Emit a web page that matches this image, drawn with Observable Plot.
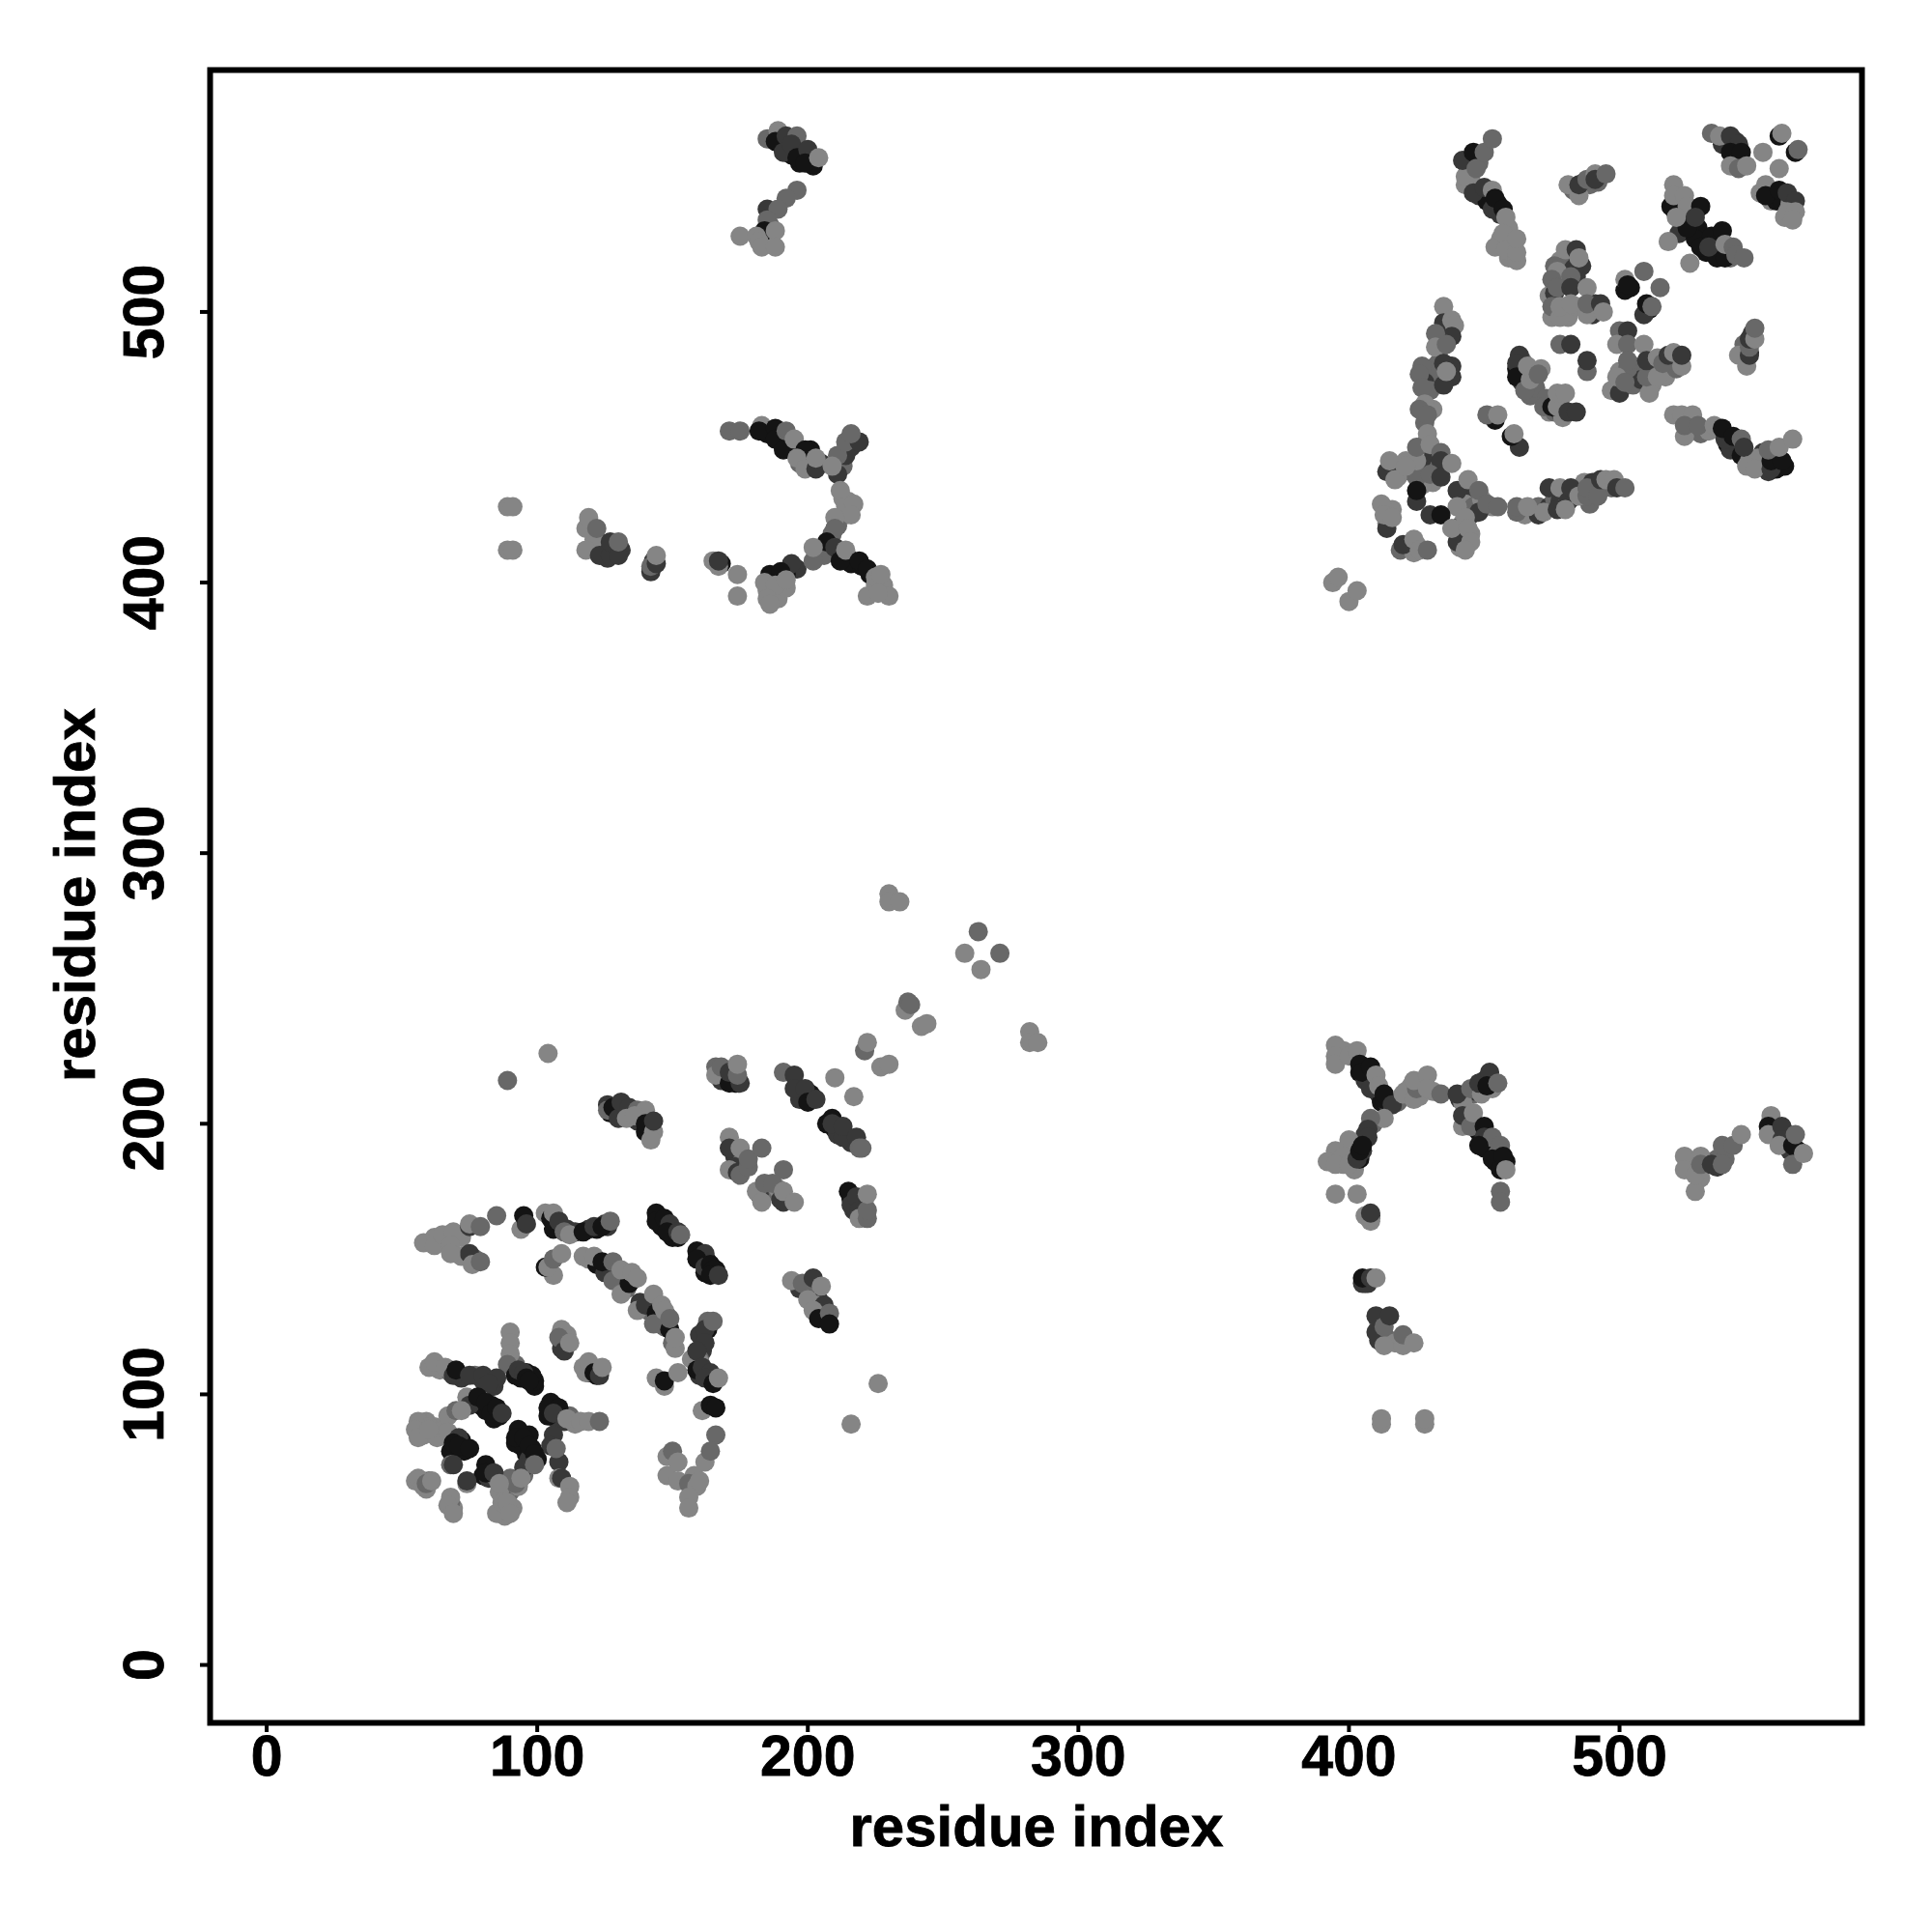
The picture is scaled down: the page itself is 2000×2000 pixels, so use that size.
<!DOCTYPE html>
<html><head><meta charset="utf-8">
<script src="https://cdn.jsdelivr.net/npm/d3@7"></script>
<script src="https://cdn.jsdelivr.net/npm/@observablehq/plot@0.6"></script>
<style>html,body{margin:0;background:#fff}svg{display:block}svg text{stroke:#000;stroke-width:.8px}</style>
</head><body><div id="chart"></div>
<script>
const shades = {K:"#141414", D:"#383838", M:"#686868", L:"#858585"};
const xTicks = [0,100,200,300,400,500];
const yTicks = [0,100,200,300,400,500];

const underLowLeft = [[72,158,'L'],[62,158,'L'],[66,156,'L'],[72,151,'L'],[77,150,'M'],[107,163,'D'],[109,162,'K'],[111,161,'D'],[114,160,'D'],[119,161,'D'],[122,161,'K'],[126,162,'D'],[125,163,'D'],
[119,150,'L'],[122,148,'K'],[126,147,'D'],[127,145,'D'],[129,146,'L'],[130,143,'D'],[132,143,'L'],[133,139,'M'],[133,144,'L'],[135,142,'L'],[138,134,'D'],[141,131,'M'],[142,134,'D'],[145,131,'D'],[146,128,'D'],[148,129,'M'],[145,127,'D'],[147,125,'M'],[150,119,'M'],
[146,162,'K'],[150,161,'K'],[150,158,'K'],[161,150,'K'],[163,149,'K'],[166,146,'K'],[162,145,'K'],
[160,122,'D'],[163,124,'K'],[161,116,'D'],[160,113,'M'],[160,107,'D'],[163,106,'K'],[165,106,'D'],[160,112,'L'],
[92,111,'M'],[94,106,'K'],[99,103,'K'],[99,105,'K'],[96,108,'K'],[98,107,'K'],[64,109,'L'],[68,108,'M'],[72,106,'D'],[77,107,'M'],[80,105,'D'],[84,103,'D'],
[76,97,'K'],[79,96,'K'],[83,96,'K'],[85,93,'K'],[81,94,'K'],[84,91,'K'],[86,92,'K'],
[106,96,'K'],[109,93,'K'],[110,90,'D'],[112,92,'M'],[114,89,'L'],[107,91,'D'],[104,92,'K'],
[97,85,'K'],[94,81,'K'],[96,78,'K'],[98,80,'K'],[100,76,'K'],[97,76,'D'],[92,82,'K'],
[70,81,'K'],[73,79,'K'],[72,83,'K'],[68,79,'K'],
[80,70,'K'],[82,69,'D'],[85,69,'M'],[88,67,'L'],[90,64,'M'],[86,64,'L'],[95,70,'M'],[93,66,'L'],[90,69,'M'],
[57,88,'L'],[58,85,'L'],[62,88,'L'],[59,90,'L'],[62,85,'L'],[63,84,'L'],
[60,68,'M'],[55,68,'L'],[59,65,'L'],[69,58,'L'],[68,60,'M'],[88,59,'L'],[91,58,'L'],[88,55,'L'],
[148,70,'L'],[158,70,'L'],[110,120,'L'],[109,117,'D'],[111,122,'L'],[119,108,'D'],[122,107,'K'],[118,108,'L']];
const underMid = [[127,204,'K'],[130,205,'D'],[132,203,'L'],[135,205,'D'],[137,201,'D'],[139,203,'L'],[141,197,'L'],[140,197,'K'],[142,199,'M'],
[168,218,'K'],[170,216,'K'],[172,217,'K'],[173,215,'K'],[168,216,'D'],
[173,188,'D'],[176,187,'M'],[173,184,'D'],[185,175,'D'],[186,175,'M'],[189,176,'L'],[190,172,'D'],
[198,211,'D'],[201,211,'K'],[197,209,'D'],[207,200,'K'],[210,198,'K'],[211,199,'D'],[211,196,'D'],[216,193,'D'],
[216,172,'K'],[217,170,'D'],[219,171,'M'],[220,167,'D'],[217,168,'D'],[221,170,'L'],
[197,139,'D'],[200,141,'D'],[201,139,'M'],[204,135,'D'],[206,131,'K'],[205,130,'D'],[203,133,'L'],[207,128,'K']];
const underUpperLeft = [[190,562,'K'],[194,558,'K'],[198,557,'K'],[201,557,'K'],[202,554,'K'],[197,555,'K'],[186,532,'M'],[184,527,'L'],[186,527,'L'],[187,525,'L'],
[185,455,'K'],[188,455,'K'],[190,452,'K'],[193,450,'K'],[195,449,'K'],[198,447,'K'],[201,449,'K'],[197,444,'M'],[205,444,'D'],[212,444,'D'],[214,449,'M'],[213,443,'M'],[216,450,'D'],
[213,431,'L'],[215,430,'L'],[214,425,'M'],[211,421,'M'],[209,418,'M'],[209,413,'K'],[212,410,'K'],[215,409,'D'],[216,407,'K'],[220,406,'K'],[223,403,'K'],[225,399,'L'],[227,398,'L'],[228,399,'L'],[206,410,'M'],
[196,405,'D'],[192,403,'K'],[190,402,'K'],[188,401,'D'],[190,399,'L'],[185,397,'L'],[188,396,'L'],[186,395,'L'],[189,394,'L'],[192,398,'L'],
[122,416,'M'],[125,412,'D'],[121,416,'L'],[126,409,'D'],[128,412,'D'],[131,412,'D'],[143,408,'D'],[142,405,'L'],[168,407,'K'],[167,406,'L']];
const underUpperRight = [[444,552,'D'],[445,554,'K'],[447,556,'K'],[448,555,'M'],[444,547,'L'],[448,543,'D'],[451,541,'K'],[455,540,'K'],[456,536,'D'],[459,531,'L'],[460,525,'L'],[456,527,'L'],[459,520,'L'],
[487,548,'D'],[483,545,'M'],[489,547,'M'],[492,548,'M'],
[478,519,'L'],[480,517,'M'],[476,517,'M'],[478,512,'M'],[480,510,'M'],[481,514,'D'],[484,517,'D'],[486,517,'D'],[484,513,'D'],[474,506,'L'],[476,507,'D'],
[479,500,'M'],[476,500,'L'],[481,498,'L'],[484,502,'L'],[490,499,'D'],[491,503,'D'],
[504,509,'K'],[502,508,'K'],[511,501,'K'],[509,499,'D'],
[497,471,'L'],[500,470,'D'],[505,473,'M'],[505,480,'M'],[500,478,'L'],
[508,475,'D'],[512,477,'M'],[512,473,'L'],[514,479,'M'],[517,476,'L'],[519,483,'M'],[521,479,'M'],[511,470,'L'],
[462,479,'K'],[464,482,'M'],[464,474,'D'],[467,471,'M'],[467,469,'M'],[469,476,'L'],[469,472,'M'],
[473,468,'M'],[474,463,'L'],[476,463,'M'],[478,467,'M'],[478,463,'D'],[479,461,'L'],
[437,494,'D'],[436,491,'L'],[434,487,'M'],[433,481,'M'],[438,480,'D'],[438,476,'D'],[429,478,'D'],[431,476,'M'],[433,475,'M'],[428,474,'D'],[430,471,'M'],[431,464,'L'],[428,459,'M'],
[520,538,'K'],[522,535,'K'],[523,533,'K'],[526,537,'K'],[527,533,'K'],[522,529,'D'],[529,531,'K'],[528,527,'K'],[534,524,'K'],[536,526,'K'],[536,522,'K'],[532,522,'K'],[536,520,'K'],[541,520,'M'],
[538,562,'D'],[543,560,'K'],[543,563,'D'],[542,556,'K'],[544,556,'K'],
[556,541,'L'],[557,544,'D'],[558,541,'K'],[560,541,'K'],[563,539,'K'],[563,540,'L'],[561,535,'L'],
[549,492,'D'],[548,485,'K'],[546,488,'M'],
[530,455,'M'],[533,456,'L'],[540,451,'K'],[541,449,'D'],[544,450,'D'],[545,447,'K'],[548,445,'L'],[552,444,'K'],[553,443,'D'],[555,441,'D'],[558,442,'K'],[561,443,'K'],[553,448,'D'],[551,446,'L'],
[421,445,'L'],[420,441,'M'],[418,442,'L'],[423,443,'L'],[418,439,'L'],[428,451,'M'],[427,443,'M'],[431,446,'D'],[431,442,'D'],[433,442,'M'],[431,437,'L'],[427,436,'L'],
[442,433,'D'],[445,430,'M'],[446,431,'D'],[447,428,'D'],[443,429,'L'],[445,425,'D'],[446,428,'M'],[449,431,'L'],[453,428,'L'],[442,422,'L'],[441,418,'M'],[445,418,'L'],[440,420,'D'],[441,413,'L'],
[414,424,'L'],[416,427,'L'],[414,422,'L'],[422,413,'L'],[419,412,'M'],[425,414,'L'],[424,411,'L'],
[464,427,'M'],[465,425,'L'],[470,428,'M'],[470,425,'D'],[474,428,'D'],[476,431,'M'],[478,430,'D'],[480,428,'M'],[482,431,'L'],[486,435,'M'],[487,437,'L'],[489,429,'M'],[490,437,'D'],[491,433,'M'],[497,435,'M']];
const underLowerRight = [[398,227,'L'],[404,219,'K'],[406,220,'K'],[407,218,'K'],[409,215,'K'],[406,216,'D'],[411,211,'D'],[412,208,'K'],[414,208,'D'],[418,208,'M'],[421,212,'L'],[423,214,'L'],[426,215,'L'],[426,210,'L'],[431,212,'L'],
[441,209,'D'],[444,211,'D'],[446,211,'M'],[450,216,'D'],[447,212,'D'],[452,216,'K'],[453,213,'L'],
[443,200,'L'],[446,199,'M'],[448,197,'K'],[449,194,'K'],[450,191,'K'],[453,190,'K'],[454,186,'K'],[455,189,'M'],[458,186,'K'],
[396,188,'L'],[398,185,'L'],[400,189,'L'],[401,188,'L'],[402,183,'L'],[404,187,'K'],[405,190,'D'],[403,190,'K'],[406,196,'D'],[409,200,'M'],
[406,142,'K'],[406,141,'D'],[407,141,'D'],[408,166,'K'],[408,165,'M'],
[411,127,'D'],[411,125,'M'],[412,122,'D'],[413,120,'M'],[411,120,'D'],[413,122,'M'],[415,120,'M'],[417,119,'L'],
[556,199,'K'],[557,197,'D'],[556,201,'K'],[562,193,'K'],[561,197,'D'],[563,190,'D'],[566,190,'K'],[530,180,'L'],[532,186,'K'],[536,187,'M'],[527,183,'L'],[536,184,'D'],[539,187,'M']];

const lowBandTop = [[58,156,'L'],[62,155,'L'],[65,159,'L'],[75,152,'D'],[76,148,'L'],[69,160,'L'],[68,155,'L'],[68,152,'L'],[75,162,'D'],[75,163,'L'],[79,162,'M'],[85,166,'M'],[79,149,'M'],
[94,161,'L'],[95,166,'K'],[96,163,'D'],
[103,167,'L'],[105,165,'K'],[106,161,'K'],[106,167,'L'],[108,164,'D'],[110,160,'M'],[112,159,'L'],[117,160,'K'],[121,162,'D'],[124,162,'K'],[127,164,'M'],
[106,144,'L'],[103,147,'K'],[104,147,'L'],[106,150,'M'],[109,152,'L'],
[117,151,'L'],[121,151,'L'],[125,145,'D'],[124,149,'K'],[128,142,'M'],[128,149,'M'],[131,137,'L'],[134,141,'K'],[131,146,'L'],[135,145,'L'],[137,143,'L'],
[137,131,'L'],[140,133,'D'],[143,137,'L'],[144,130,'K'],[143,126,'M'],[146,133,'L'],[147,131,'L'],[149,124,'K'],[149,128,'M'],[151,117,'L'],[151,121,'L']];
const lowBandDark = [[144,167,'K'],[144,164,'K'],[147,165,'K'],[149,163,'D'],[148,160,'K'],[152,158,'K'],[152,160,'D'],[153,159,'M'],
[159,153,'K'],[162,152,'D'],[159,150,'K'],[162,147,'D'],[164,148,'K'],[165,146,'K'],[164,144,'K'],[167,144,'D'],
[157,113,'L'],[163,127,'M'],[162,124,'D'],[165,127,'M'],[162,119,'D'],[159,116,'D'],[159,109,'K'],[161,110,'D'],[164,108,'D'],[162,106,'D'],[165,104,'K'],[167,106,'L'],
[144,106,'L'],[147,103,'L'],[147,105,'K'],[152,108,'L'],
[161,94,'L'],[164,96,'K'],[166,95,'K'],[166,85,'M'],
[148,77,'L'],[150,79,'M'],[152,75,'L'],[152,68,'L'],[156,67,'M'],[159,66,'L'],[160,68,'L'],[156,62,'L'],[156,58,'L'],[162,75,'L'],[164,79,'M']];
const lowClusterLeft = [[90,123,'L'],[90,119,'L'],[90,115,'L'],[89,111,'M'],[92,107,'K'],[93,109,'D'],[95,108,'D'],[96,106,'K'],[97,105,'K'],
[60,110,'L'],[62,112,'L'],[66,110,'L'],[69,107,'D'],[70,109,'K'],[75,107,'D'],[80,107,'D'],[85,106,'D'],[82,104,'D'],
[74,99,'L'],[75,96,'D'],[78,99,'K'],[81,97,'K'],[83,93,'K'],[85,95,'K'],[87,93,'D'],
[105,97,'K'],[104,95,'K'],[108,95,'K'],[106,93,'D'],[111,91,'L'],[116,90,'L'],[119,90,'L'],[123,90,'M'],
[106,85,'D'],[108,75,'D'],[105,81,'D'],[107,80,'M'],
[93,87,'K'],[92,84,'K'],[95,84,'K'],[97,81,'K'],[99,78,'K'],[95,73,'D'],[99,74,'M'],[92,67,'M'],[94,69,'L'],
[67,92,'L'],[70,94,'M'],[72,94,'L'],[56,90,'L'],[60,88,'L'],[55,87,'L'],[56,84,'L'],[60,87,'L'],
[67,86,'L'],[71,84,'D'],[69,82,'K'],[71,81,'K'],[75,80,'K'],[68,74,'M'],[69,74,'D'],
[81,74,'K'],[81,71,'K'],[84,71,'D'],[86,67,'L'],[74,67,'L'],[74,68,'D'],
[56,69,'L'],[58,66,'L'],[59,67,'M'],[61,68,'L'],[68,62,'L'],[67,59,'L'],[69,56,'L'],
[85,56,'L'],[87,60,'L'],[89,60,'L'],[90,56,'L'],
[108,69,'L'],[109,69,'D'],[112,66,'L'],[112,62,'L'],[111,60,'L'],
[109,124,'L'],[108,121,'M'],[110,116,'D'],[112,119,'L'],[117,110,'L'],[119,112,'L'],[121,108,'K'],[123,107,'D'],[124,110,'L']];
const midBands = [[126,207,'D'],[126,205,'M'],[128,206,'K'],[130,202,'D'],[131,208,'D'],[134,206,'D'],[133,202,'L'],[137,205,'M'],[140,205,'L'],[136,203,'L'],[140,200,'K'],[143,197,'L'],[142,194,'L'],[143,201,'D'],
[166,221,'M'],[166,218,'L'],[168,221,'M'],[171,215,'K'],[171,219,'D'],[175,215,'D'],[174,218,'M'],[174,222,'L'],
[171,195,'L'],[171,191,'D'],[175,191,'L'],[171,183,'L'],[174,182,'D'],[175,181,'M'],[178,184,'M'],[178,187,'M'],[183,191,'M'],
[191,183,'M'],[182,174,'D'],[181,175,'L'],[184,178,'M'],[187,178,'M'],[183,171,'L'],[191,171,'D'],[191,175,'L'],[195,171,'L'],
[191,219,'M'],[195,218,'D'],[195,213,'D'],[199,213,'D'],[200,208,'K'],[203,209,'D'],
[209,202,'K'],[209,200,'D'],[213,195,'D'],[213,199,'D'],[218,195,'D'],[219,191,'M'],[220,191,'M'],
[215,175,'K'],[216,170,'D'],[218,173,'D'],[219,168,'D'],[219,165,'L'],[222,165,'M'],[222,168,'M'],[222,174,'L'],
[194,142,'L'],[198,141,'M'],[202,143,'D'],[205,140,'L'],[200,135,'L'],[206,133,'D'],[202,131,'L'],[204,128,'K'],[208,130,'M'],[208,126,'K'],
[210,217,'L'],[217,210,'L'],[216,89,'L'],[226,104,'L']];
const diagonalTail = [[230,285,'L'],[230,282,'L'],[234,282,'L'],[263,271,'M'],[258,263,'L'],[271,263,'M'],[264,257,'L'],
[236,242,'L'],[237,245,'M'],[238,244,'M'],[242,236,'L'],[244,237,'L'],[282,234,'L'],[282,230,'L'],[285,230,'L'],
[221,227,'M'],[222,230,'L'],[227,221,'L'],[230,222,'L'],[89,216,'M'],[104,226,'L']];
const upperLeftTop = [[185,564,'M'],[189,567,'L'],[188,563,'K'],[192,565,'D'],[196,565,'M'],[191,559,'D'],[194,562,'D'],[196,557,'K'],[200,560,'D'],[199,555,'K'],[204,557,'L'],
[196,545,'M'],[192,542,'M'],[185,538,'D'],[189,538,'M'],[185,534,'M'],[184,530,'K'],[188,530,'L'],[175,528,'L'],[181,528,'L'],[182,526,'L'],[183,524,'L'],[188,524,'L']];
const upperLeftMid = [[171,456,'M'],[175,456,'M'],[183,458,'L'],[182,456,'K'],[188,457,'K'],[188,453,'K'],[192,456,'M'],[191,449,'K'],[195,453,'L'],[199,449,'K'],[196,446,'L'],[199,442,'L'],[203,442,'D'],[203,446,'L'],
[211,440,'D'],[214,447,'D'],[211,447,'M'],[214,452,'M'],[209,443,'L'],[219,452,'D'],[216,455,'M'],
[212,434,'L'],[214,428,'L'],[217,429,'L'],[216,425,'L'],[210,424,'L'],[210,420,'M'],[207,415,'K'],[210,413,'D'],[212,408,'K'],[214,412,'L'],
[219,408,'K'],[222,405,'K'],[225,402,'L'],[222,395,'L'],[230,395,'L'],[226,396,'L'],[227,403,'L'],
[202,408,'M'],[202,413,'L'],[194,407,'D'],[186,403,'K'],[190,404,'K'],[184,400,'L'],[188,399,'L'],[192,401,'L'],[185,394,'L'],[186,392,'L'],
[174,403,'L'],[174,395,'L'],[165,408,'L'],[167,408,'D'],
[142,404,'D'],[142,406,'M'],[144,407,'D'],[144,410,'L'],
[118,412,'L'],[118,420,'L'],[119,424,'L'],[122,420,'M'],[123,410,'D'],[127,410,'D'],[127,415,'D'],[130,410,'D'],[130,415,'M'],
[89,412,'L'],[91,412,'L'],[89,428,'L'],[91,428,'L']];
const upperRightBands = [[443,547,'L'],[445,549,'L'],[443,550,'L'],[442,556,'D'],[446,559,'K'],[447,553,'M'],[450,559,'M'],[453,564,'M'],
[446,544,'D'],[450,546,'D'],[453,545,'L'],[453,538,'D'],[454,542,'K'],[457,538,'K'],[458,535,'L'],[454,524,'L'],[457,529,'L'],[458,523,'L'],[462,519,'L'],[462,522,'L'],[462,527,'L'],
[481,547,'L'],[485,543,'L'],[485,547,'D'],[488,549,'M'],[491,551,'L'],[491,549,'D'],[495,551,'M'],
[480,523,'L'],[484,523,'D'],[483,516,'D'],[485,520,'L'],[477,515,'L'],[475,512,'M'],[482,513,'M'],[477,509,'M'],[482,509,'D'],[488,509,'L'],
[475,498,'L'],[475,502,'M'],[478,498,'L'],[478,502,'L'],[482,503,'L'],[488,499,'L'],[488,503,'M'],[493,503,'D'],[494,500,'L'],
[502,512,'L'],[503,510,'K'],[509,515,'M'],[515,509,'M'],[510,503,'K'],[512,502,'M'],
[500,493,'M'],[503,493,'D'],[499,488,'L'],[503,488,'M'],[509,488,'L'],[503,479,'M'],[503,482,'M'],[499,476,'L'],[502,474,'M'],
[510,476,'M'],[510,482,'D'],[514,476,'L'],[514,483,'L'],[516,481,'M'],[518,484,'D'],[520,485,'L'],[523,480,'L'],[523,484,'D'],
[478,488,'M'],[482,488,'D'],[488,478,'M'],[488,482,'D']];
const upperRightMid = [[463,484,'D'],[462,481,'D'],[462,476,'K'],[465,471,'M'],[467,475,'L'],[466,480,'L'],[471,479,'L'],[470,477,'M'],
[472,465,'M'],[475,465,'K'],[477,465,'L'],[477,470,'L'],[480,470,'L'],[481,463,'D'],[484,463,'D'],
[454,460,'K'],[451,462,'M'],[455,462,'L'],[463,450,'D'],[460,454,'K'],[461,455,'L'],
[435,502,'L'],[435,496,'D'],[438,497,'L'],[439,495,'L'],[438,491,'D'],[432,492,'M'],[432,487,'L'],[436,488,'M'],[432,480,'M'],[435,481,'D'],[435,473,'D'],[436,478,'L'],[427,480,'M'],[426,477,'M'],[427,472,'M'],[428,466,'L'],[426,464,'M'],[429,462,'M'],
[519,539,'K'],[520,547,'L'],[520,543,'L'],[524,543,'L'],[525,539,'L'],[525,531,'K'],[521,535,'L'],[530,539,'K'],[528,535,'D'],[518,526,'L'],[526,518,'L'],
[530,524,'K'],[534,528,'K'],[538,530,'K'],[533,524,'D'],[539,520,'K'],[539,525,'L'],[542,524,'M'],[543,521,'M'],[546,520,'M'],
[534,566,'M'],[537,565,'L'],[541,565,'D'],[544,562,'D'],[541,559,'K'],[545,559,'K'],[541,554,'L'],[544,553,'M'],[547,554,'L'],
[559,565,'K'],[560,566,'L'],[565,559,'K'],[566,560,'M'],[553,559,'L'],[559,553,'L'],
[552,544,'L'],[554,547,'L'],[554,543,'K'],[559,545,'K'],[562,544,'D'],[565,541,'D'],[562,537,'L'],[565,537,'L'],[564,534,'L'],
[544,484,'L'],[547,480,'L'],[548,484,'D'],[548,487,'M'],[548,490,'D'],[550,490,'L'],[550,494,'M']];
const upperRightLow = [[520,462,'L'],[523,462,'L'],[527,462,'L'],[524,454,'L'],[524,458,'M'],[529,458,'M'],[535,458,'L'],[539,453,'D'],[538,457,'K'],[542,454,'K'],[545,453,'M'],[546,450,'D'],
[547,443,'L'],[550,442,'L'],[556,442,'D'],[556,445,'K'],[560,445,'K'],[555,449,'M'],[559,450,'L'],[564,453,'L'],
[425,439,'M'],[429,455,'L'],[425,445,'L'],[425,450,'M'],[430,451,'L'],[434,448,'M'],[434,445,'D'],[430,440,'M'],[434,439,'D'],[438,444,'L'],
[414,441,'D'],[415,445,'L'],[417,438,'L'],[421,443,'L'],
[425,430,'D'],[425,434,'K'],[440,434,'D'],[444,438,'L'],[440,428,'L'],[448,426,'D'],[448,434,'M'],[451,429,'M'],[455,428,'M'],
[430,425,'D'],[434,425,'K'],[440,415,'D'],[438,420,'L'],[443,424,'L'],[444,420,'L'],[445,415,'L'],[443,412,'L'],
[414,420,'D'],[412,429,'L'],[413,425,'L'],[416,424,'L'],[420,414,'D'],[424,416,'L'],[426,412,'L'],[429,412,'M'],
[462,426,'M'],[462,428,'M'],[466,428,'L'],[472,426,'L'],[477,427,'D'],[474,435,'D'],[478,435,'L'],[481,430,'D'],[482,435,'D'],[480,427,'L'],[485,432,'L'],[488,432,'M'],[488,435,'M'],[492,432,'M'],[493,438,'D'],[495,438,'L'],[498,438,'L'],[499,435,'D'],[502,435,'M'],
[394,400,'L'],[396,402,'L'],[400,393,'L'],[403,397,'L']];
const lowerRightMid = [[395,229,'L'],[395,225,'L'],[395,222,'L'],[400,225,'L'],[403,227,'L'],[404,222,'K'],[405,219,'K'],[408,221,'K'],[408,213,'D'],[410,218,'L'],[411,214,'L'],[413,209,'K'],[413,211,'K'],[416,207,'D'],
[420,211,'L'],[424,209,'L'],[425,213,'M'],[424,216,'L'],[429,218,'L'],[429,213,'L'],[434,211,'M'],
[442,208,'L'],[440,211,'D'],[445,213,'M'],[449,211,'L'],[448,215,'D'],[452,219,'D'],[451,214,'K'],[455,215,'M'],
[442,199,'L'],[442,203,'D'],[445,199,'M'],[446,204,'L'],[450,199,'K'],[450,195,'D'],[453,195,'M'],[448,192,'K'],[456,192,'M'],[453,187,'K'],[457,188,'K'],[456,183,'K'],[458,183,'L'],
[456,175,'M'],[456,171,'M'],[395,174,'L'],[403,174,'L'],
[413,202,'L'],[408,202,'M'],[407,198,'D'],[407,195,'D'],[400,194,'L'],[395,190,'L'],[392,186,'L'],[398,188,'L'],[395,185,'L'],[400,185,'L'],[403,187,'D'],[404,190,'K'],[405,192,'K'],
[408,164,'L'],[406,166,'L'],[408,167,'D'],
[405,141,'D'],[405,143,'K'],[408,143,'D'],[410,143,'L'],
[410,123,'D'],[410,129,'D'],[413,118,'L'],[413,125,'M'],[415,129,'D'],[420,118,'L'],[420,122,'M'],[424,119,'L'],
[412,89,'L'],[412,91,'L'],[428,89,'L'],[428,91,'L']];
const lowerRightFar = [[524,188,'L'],[524,183,'L'],[528,175,'L'],[528,181,'L'],[530,188,'L'],[530,185,'M'],[534,185,'D'],[538,185,'M'],[538,192,'M'],[542,192,'M'],[545,196,'L'],
[556,203,'L'],[555,199,'K'],[555,196,'L'],[560,199,'D'],[560,194,'D'],[559,192,'L'],[564,192,'K'],[565,196,'M'],[564,185,'M'],[568,189,'L']];

const contacts = [underLowLeft, underMid, underUpperLeft, underUpperRight, underLowerRight,
  lowBandTop, lowBandDark, lowClusterLeft, midBands, diagonalTail, upperLeftTop, upperLeftMid,
  upperRightBands, upperRightMid, upperRightLow, lowerRightMid, lowerRightFar].flat()
  .map(([i, j, s]) => ({i, j, fill: shades[s]}));

const chart = Plot.plot({
  width: 2000, height: 2000,
  marginLeft: 217, marginRight: 73, marginTop: 72, marginBottom: 217,
  style: {fontFamily: '"Liberation Sans", Arial, sans-serif', fontWeight: "bold", fontSize: "59px", background: "#fff", color: "#000"},
  x: {domain: [-20.9, 589.6]},
  y: {domain: [-21.4, 589.4]},
  marks: [
    Plot.dot(contacts, {x: "i", y: "j", r: 10, fill: "fill", stroke: null}),
    Plot.axisX({ticks: xTicks, tickFormat: d => String(d), tickSize: 10, tickPadding: 3, strokeWidth: 4, stroke: "#000", fill: "#000", label: null, fontSize: 59}),
    Plot.axisY({ticks: yTicks, tickFormat: d => String(d), tickSize: 10, tickPadding: 39, tickRotate: -90, strokeWidth: 4, stroke: "#000", fill: "#000", label: null, fontSize: 59, textAnchor: "middle"}),
    Plot.frame({stroke: "#000", strokeWidth: 6}),
    Plot.text(["residue index"], {x: 284.5, frameAnchor: "bottom", dy: 108, fontSize: 60, fill: "#000", lineAnchor: "middle"}),
    Plot.text(["residue index"], {y: 284.5, frameAnchor: "left", dx: -139, rotate: -90, fontSize: 60, fill: "#000", lineAnchor: "middle", textAnchor: "middle"})
  ]
});
document.getElementById("chart").append(chart);
</script></body></html>
